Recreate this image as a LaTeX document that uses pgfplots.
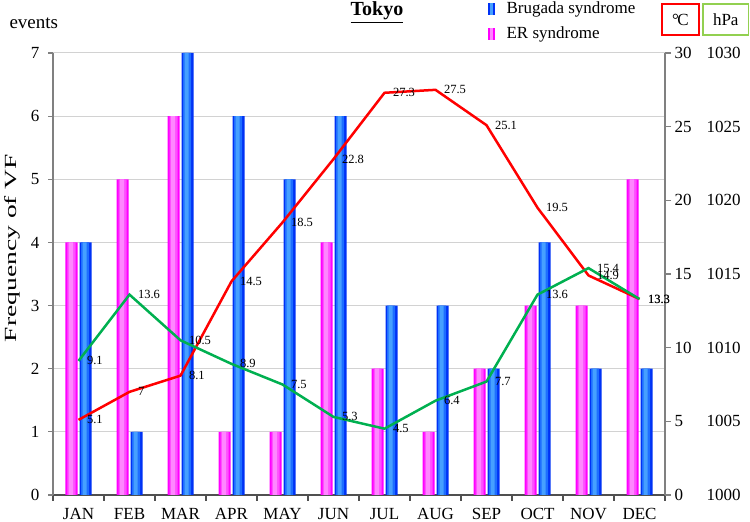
\documentclass[border=0pt]{standalone}
\usepackage{pgfplots}
\pgfplotsset{compat=1.18}
\usepackage{fontspec}
\setmainfont{Liberation Serif}
\usepackage{graphicx}
\definecolor{bedge}{RGB}{0,50,245}
\definecolor{bmid}{RGB}{30,110,255}
\definecolor{bin}{RGB}{70,160,255}
\definecolor{medge}{RGB}{255,0,255}
\definecolor{mmid}{RGB}{255,80,255}
\definecolor{min}{RGB}{255,135,255}
\definecolor{linered}{RGB}{255,0,0}
\definecolor{linegreen}{RGB}{0,176,80}
\definecolor{boxgreen}{RGB}{146,208,80}
\definecolor{gridgray}{RGB}{210,210,210}
\definecolor{axgray}{RGB}{128,128,128}
\definecolor{xaxgray}{RGB}{80,80,80}
\pgfplotsset{/pgf/number format/assume math mode=true}
\newcommand{\fs}{\fontsize{17}{20}\selectfont}
\newcommand{\fl}{\fontsize{12.5}{14}\selectfont}
\pgfplotstableread{
m ER BR
1 4 4
2 5 1
3 6 7
4 1 6
5 1 5
6 4 6
7 2 3
8 1 3
9 2 2
10 3 4
11 3 2
12 5 2
}\bars
\begin{document}
\begin{tikzpicture}
\useasboundingbox (0pt,0pt) rectangle (750pt,522pt);
% bars
\begin{axis}[
  at={(53pt,27pt)}, anchor=south west,
  scale only axis, width=612pt, height=442pt,
  xmin=0.5, xmax=12.5, ymin=0, ymax=7,
  axis x line*=bottom, axis y line*=left,
  xtick={1,...,12},
  xticklabels={JAN,FEB,MAR,APR,MAY,JUN,JUL,AUG,SEP,OCT,NOV,DEC},
  minor xtick={0.5,1.5,...,12.5},
  major x tick style={draw=none},
  minor x tick style={xaxgray, line width=1.2pt},
  minor tick length=6pt,
  ytick={0,...,7},
  major tick length=5pt,
  ytick style={axgray, line width=1.2pt},
  tick align=outside,
  ymajorgrids, grid style={gridgray, line width=1pt},
  x axis line style={xaxgray, line width=1.2pt},
  y axis line style={axgray, line width=1.2pt},
  xticklabel style={font=\fs, yshift=-5pt},
  yticklabel style={font=\fs, xshift=-5pt},
  ybar, draw=none,
]
\addplot[bar width=12pt, bar shift=-7pt, fill=medge, draw=none] table[x=m, y=ER] {\bars};
\addplot[bar width=8pt, bar shift=-7pt, fill=mmid, draw=none] table[x=m, y=ER] {\bars};
\addplot[bar width=4pt, bar shift=-7.5pt, fill=min, draw=none] table[x=m, y=ER] {\bars};
\addplot[bar width=12pt, bar shift=7pt, fill=bedge, draw=none] table[x=m, y=BR] {\bars};
\addplot[bar width=8pt, bar shift=6.5pt, fill=bmid, draw=none] table[x=m, y=BR] {\bars};
\addplot[bar width=4pt, bar shift=6pt, fill=bin, draw=none] table[x=m, y=BR] {\bars};
\end{axis}
% temperature / pressure lines
\begin{axis}[
  at={(53pt,27pt)}, anchor=south west,
  scale only axis, width=612pt, height=442pt,
  xmin=0.5, xmax=12.5, ymin=0, ymax=30,
  axis x line=none, axis y line*=right,
  ytick={0,5,...,30}, major tick length=6pt, tick align=outside,
  y axis line style={axgray, line width=1.2pt},
  ytick style={axgray, line width=1.2pt},
  yticklabel style={font=\fs, anchor=west},
  clip=false,
  nodes near coords, point meta=y,
  nodes near coords style={font=\fl, anchor=west, text=black, xshift=4pt},
]
\addplot[linered, line width=2.5pt, mark=none]
  coordinates {(1,5.1) (2,7) (3,8.1) (4,14.5) (5,18.5) (6,22.8) (7,27.3) (8,27.5) (9,25.1) (10,19.5) (11,14.9) (12,13.3)};
\addplot[linegreen, line width=2.5pt, mark=none]
  coordinates {(1,9.1) (2,13.6) (3,10.5) (4,8.9) (5,7.5) (6,5.3) (7,4.5) (8,6.4) (9,7.7) (10,13.6) (11,15.4) (12,13.3)};
\end{axis}
% hPa labels
\begin{axis}[
  at={(53pt,27pt)}, anchor=south west,
  scale only axis, width=612pt, height=442pt,
  xmin=0.5, xmax=12.5, ymin=1000, ymax=1030,
  axis x line=none, axis y line*=right,
  ytick={1000,1005,...,1030}, major tick length=0pt,
  y axis line style={draw=none}, ytick style={draw=none},
  yticklabel style={font=\fs, anchor=west, xshift=38pt},
  /pgf/number format/1000 sep={},
]
\addplot[draw=none] coordinates {(1,1000) (12,1030)};
\end{axis}
% texts
\node[anchor=west, font=\fontsize{19}{22}\selectfont] at (6pt,499pt) {events};
\node[rotate=90] at (12pt,274pt) {\scalebox{1.62}[1]{\fs Frequency of VF}};
\node[anchor=base, font=\fontsize{20}{22}\selectfont] at (377pt,506pt) {\underline{\textbf{Tokyo}}};
\fill[bedge] (488pt,507pt) rectangle (495pt,519pt);
\fill[bin] (490pt,507pt) rectangle (492.5pt,519pt);
\node[anchor=west, font=\fs] at (503pt,513pt) {Brugada syndrome};
\fill[medge] (488pt,482pt) rectangle (495pt,494pt);
\fill[min] (490pt,482pt) rectangle (493pt,494pt);
\node[anchor=west, font=\fs] at (503pt,488pt) {ER syndrome};
\draw[linered, line width=1.8pt] (662pt,487pt) rectangle (699pt,518pt);
\node[font=\fs] at (680.5pt,502pt) {\textdegree\kern-1.5pt C};
\draw[boxgreen, line width=1.8pt] (703pt,487pt) rectangle (748.5pt,518pt);
\node[font=\fs] at (725.75pt,502pt) {hPa};
\end{tikzpicture}
\end{document}
